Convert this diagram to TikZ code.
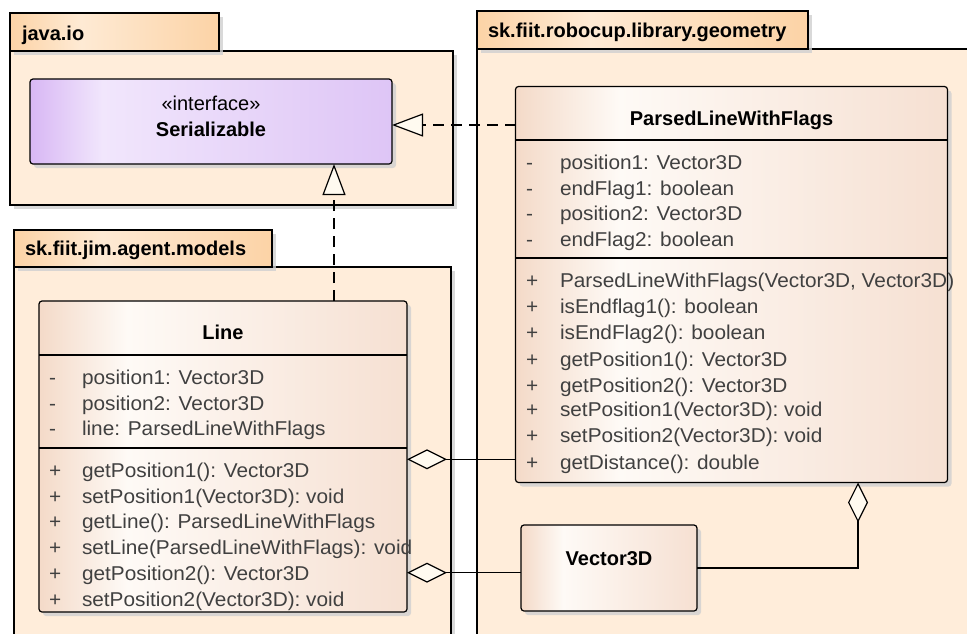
\documentclass[tikz,border=0pt]{standalone}
\usepackage{fontspec}
\setmainfont{Liberation Sans}
\newfontfamily\memfont[FakeStretch=1.04]{Liberation Sans}
\usetikzlibrary{arrows.meta,shadows}
\definecolor{pkgcol}{HTML}{FFEDDA}
\definecolor{tabD}{HTML}{FCD3A6}
\definecolor{tabL}{HTML}{FEEAD4}
\definecolor{clsL}{HTML}{F4DAC8}
\definecolor{clsM}{HTML}{FEFAF6}
\definecolor{clsR}{HTML}{F6E0D2}
\definecolor{ifL}{HTML}{D8B7F4}
\definecolor{ifM}{HTML}{F1E6FC}
\definecolor{ifR}{HTML}{DEC5F6}
\definecolor{txtcol}{HTML}{404040}
\definecolor{tipcol}{HTML}{FFFAF0}
\definecolor{shadowcol}{HTML}{D0D0D0}
\pgfdeclarehorizontalshading{clsshade}{100bp}{color(0bp)=(clsL); color(25bp)=(clsL); color(37bp)=(clsM); color(75bp)=(clsR); color(100bp)=(clsR)}
\pgfdeclarehorizontalshading{ifshade}{100bp}{color(0bp)=(ifL); color(25bp)=(ifL); color(35bp)=(ifM); color(75bp)=(ifR); color(100bp)=(ifR)}
\pgfdeclarehorizontalshading{tabshade}{100bp}{color(0bp)=(tabD); color(25bp)=(tabD); color(42bp)=(tabL); color(75bp)=(tabD); color(100bp)=(tabD)}
\begin{document}
\begin{tikzpicture}[x=1pt,y=-1pt,
  every node/.style={inner sep=0pt,outer sep=0pt},
  shad/.style={drop shadow={shadow xshift=4pt,shadow yshift=-4pt,fill=shadowcol,opacity=0.8}},
  pkgbody/.style={draw,line width=1.1pt,fill=pkgcol,shad},
  pkgtab/.style={draw,line width=1.1pt,shading=tabshade,shad},
  pkglabel/.style={anchor=base west,font=\fontsize{20}{24}\selectfont\bfseries},
  clsbox/.style={draw,line width=1.2pt,rounded corners=3pt,shading=clsshade,shad},
  ifbox/.style={draw,line width=1.2pt,rounded corners=3pt,shading=ifshade,shad},
  ctitle/.style={anchor=base,font=\fontsize{20}{24}\selectfont\bfseries},
  stereo/.style={anchor=base,font=\fontsize{20}{24}\selectfont},
  member/.style={anchor=base west,text=txtcol,font=\memfont\fontsize{20}{24}\selectfont},
  sepline/.style={line width=1.2pt},
  realize/.style={line width=1.2pt,dash pattern=on 11pt off 7pt,-{Triangle[length=31pt,width=23pt,fill=tipcol]}},
  aggr/.style={line width=1.2pt,{Diamond[length=40pt,width=20pt,fill=tipcol]}-},
]
\useasboundingbox (0,0) rectangle (967,633);
\fill[white] (0,0) rectangle (967,633);
\clip (0,0) rectangle (967,633);

% packages
\node[pkgbody,minimum width=443pt,minimum height=154pt] (iobody) at (231.5,128) {};
\node[pkgtab,minimum width=209pt,minimum height=38pt] (iotab) at (114.5,32) {};
\node[pkglabel] (iolabel) at (22,40) {java.io};

\node[pkgbody,minimum width=437pt,minimum height=393pt] (jimbody) at (232.5,463.5) {};
\node[pkgtab,minimum width=258pt,minimum height=37pt] (jimtab) at (143,248.5) {};
\node[pkglabel] (jimlabel) at (25,255.5) {sk.fiit.jim.agent.models};

\node[pkgbody,minimum width=513pt,minimum height=611pt] (geobody) at (733.5,354.5) {};
\node[pkgtab,minimum width=331pt,minimum height=38pt] (geotab) at (642.5,30) {};
\node[pkglabel] (geolabel) at (488,37.5) {sk.fiit.robocup.library.geometry};

% Serializable
\node[ifbox,minimum width=362pt,minimum height=85pt] (ser) at (211,121.5) {};
\node[stereo] (serst) at (211,110) {«interface»};
\node[ctitle] (sert) at (211,136.5) {Serializable};

% ParsedLineWithFlags
\node[clsbox,minimum width=432pt,minimum height=396pt] (plwf) at (731.5,284.5) {};
\node[ctitle] (plwft) at (731.5,125) {ParsedLineWithFlags};
\draw[sepline] (515.5,140) -- (947.5,140);
\draw[sepline] (515.5,258) -- (947.5,258);
\foreach \y/\s/\t [count=\i] in {169/-/{position1: Vector3D},195/-/{endFlag1: boolean},220.5/-/{position2: Vector3D},246/-/{endFlag2: boolean},
  287/+/{ParsedLineWithFlags(Vector3D, Vector3D)},313.3/+/{isEndflag1(): boolean},339/+/{isEndFlag2(): boolean},366/+/{getPosition1(): Vector3D},392/+/{getPosition2(): Vector3D},416.7/+/{setPosition1(Vector3D): void},442.7/+/{setPosition2(Vector3D): void},469/+/{getDistance(): double}}{
  \node[member] (ps\i) at (526,\y) {\s};
  \node[member] (pm\i) at (560,\y) {\t};
}

% Line
\node[clsbox,minimum width=368pt,minimum height=311pt] (line) at (223,456.5) {};
\node[ctitle] (linet) at (223,339) {Line};
\draw[sepline] (39,355) -- (407,355);
\draw[sepline] (39,448) -- (407,448);
\foreach \y/\s/\t [count=\i] in {384/-/{position1: Vector3D},410/-/{position2: Vector3D},435.5/-/{line: ParsedLineWithFlags},
  477/+/{getPosition1(): Vector3D},503/+/{setPosition1(Vector3D): void},528.5/+/{getLine(): ParsedLineWithFlags},554.5/+/{setLine(ParsedLineWithFlags): void},580/+/{getPosition2(): Vector3D},606/+/{setPosition2(Vector3D): void}}{
  \node[member] (ls\i) at (49,\y) {\s};
  \node[member] (lm\i) at (82,\y) {\t};
}

% Vector3D
\node[clsbox,minimum width=176pt,minimum height=86pt] (vec) at (609,568) {};
\node[ctitle] (vect) at (609,565) {Vector3D};

% helper coordinates
\coordinate (h125) at (0,125);
\coordinate (v334) at (334,0);
\coordinate (h459) at (0,459.3);
\coordinate (h573) at (0,572.7);
\coordinate (v858) at (858,0);

% connectors
\draw[realize] (plwf.west |- h125) -- (ser.east |- h125);
\draw[realize] (line.north -| v334) -- (ser.south -| v334);
\draw[aggr] (line.east |- h459) -- (plwf.west |- h459);
\draw[aggr] (line.east |- h573) -- (vec.west |- h573);
\draw[aggr] (plwf.south -| v858) |- (vec.east);
\end{tikzpicture}
\end{document}
